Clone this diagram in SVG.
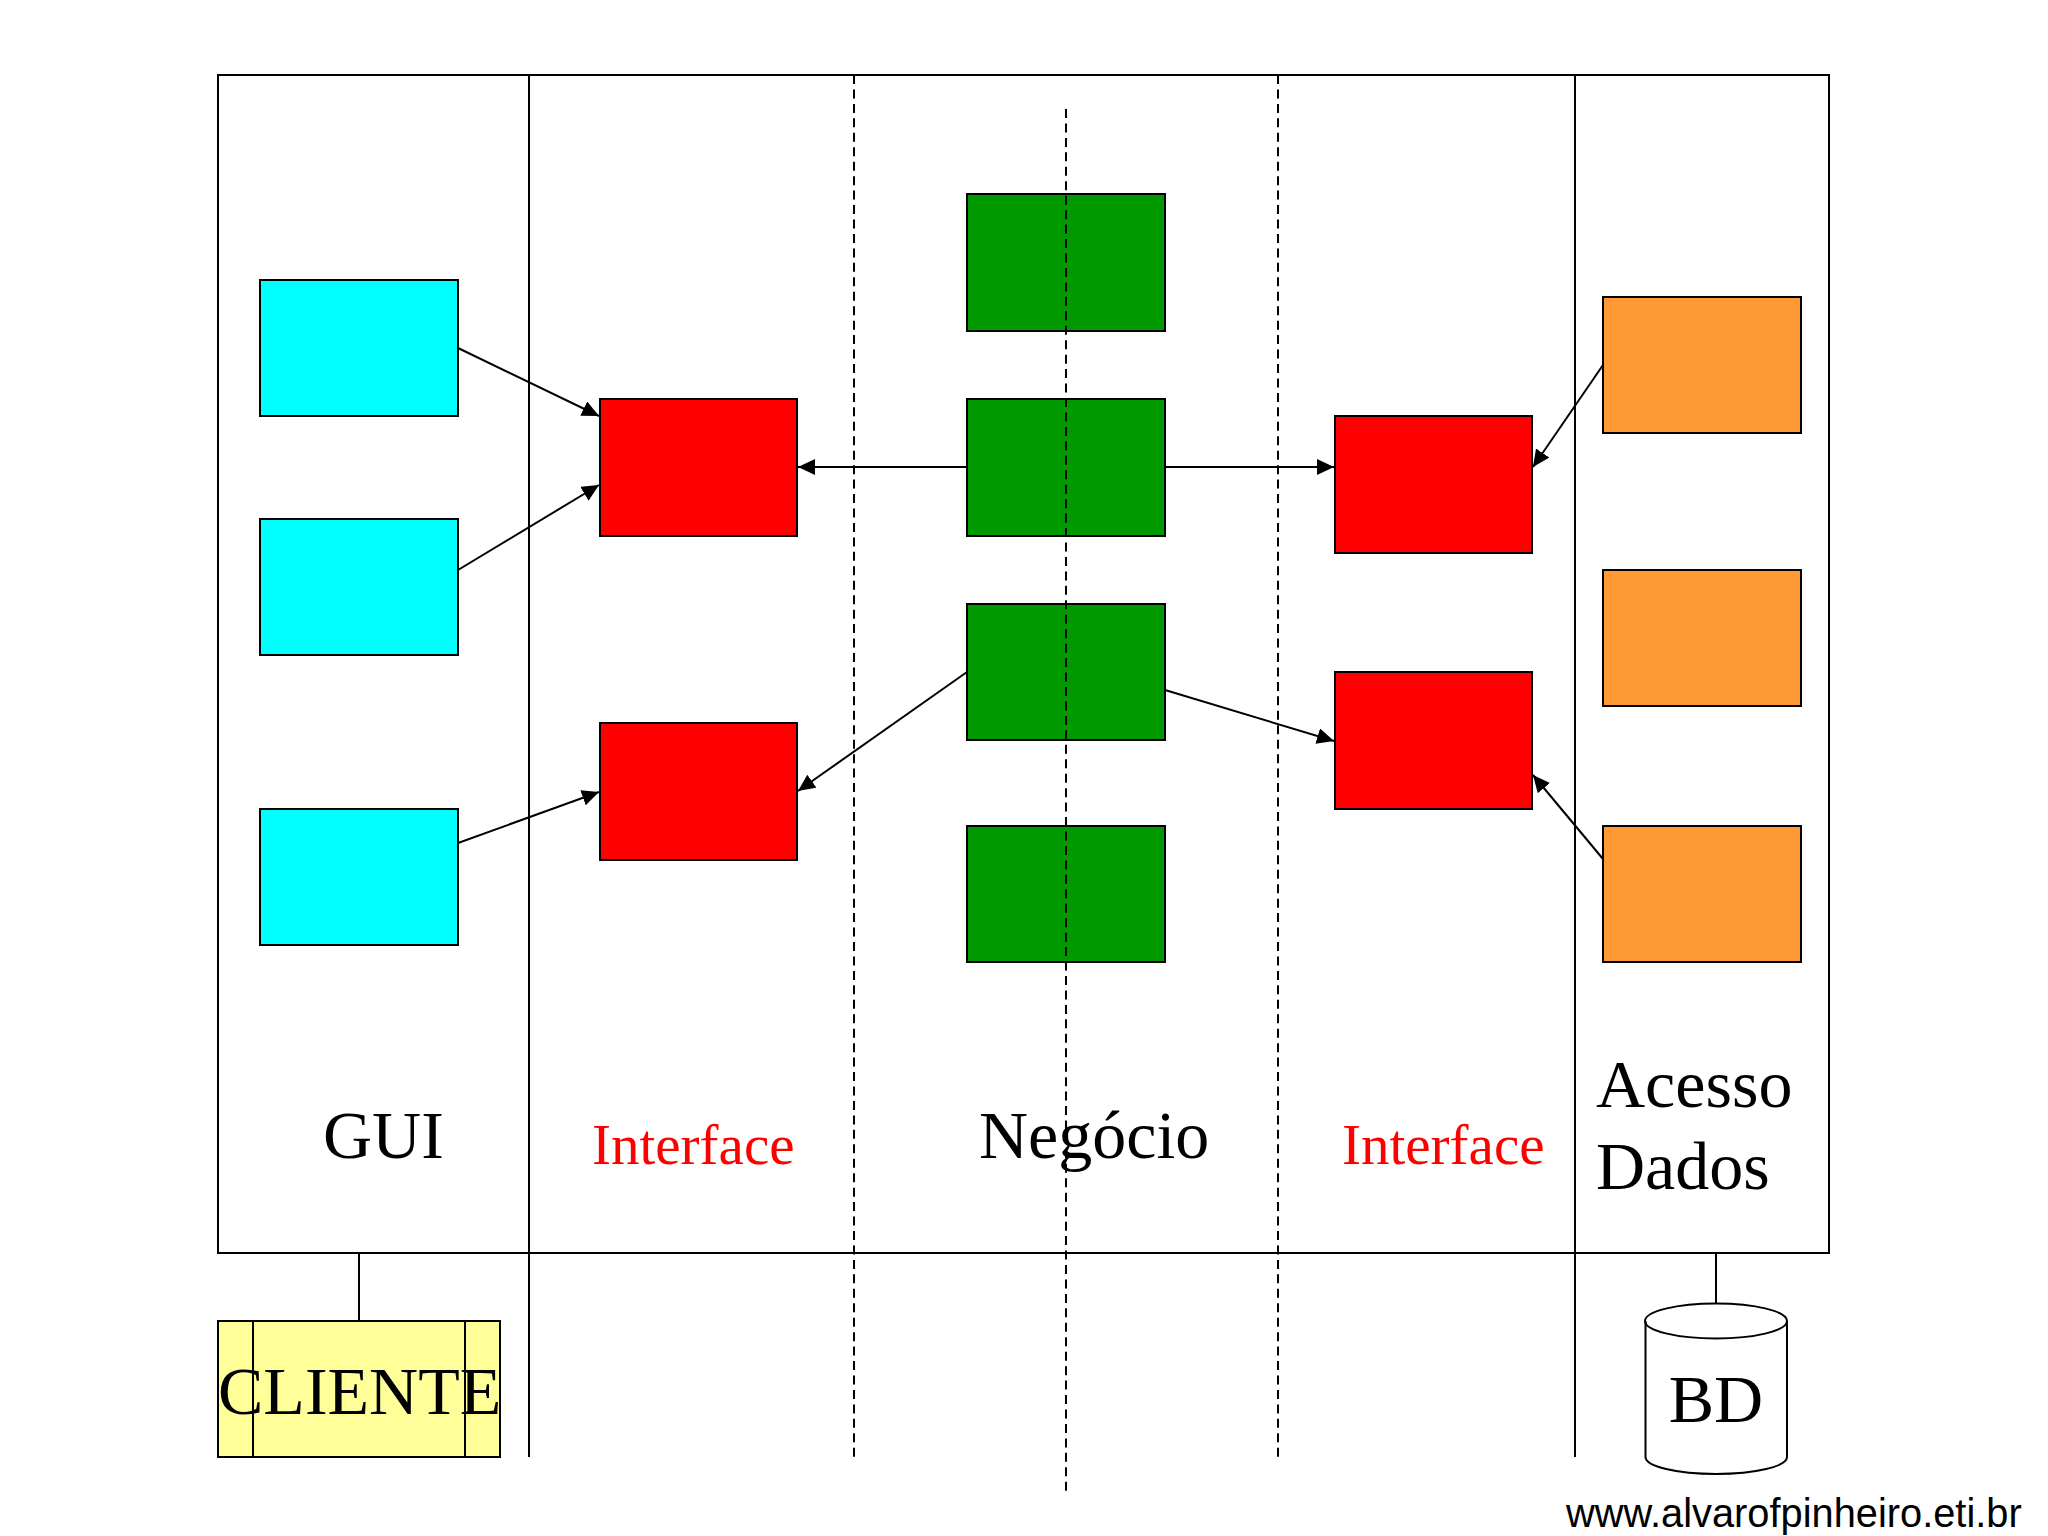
<svg xmlns="http://www.w3.org/2000/svg" width="2048" height="1536" viewBox="0 0 2048 1536">
<style>
.box{stroke:#000;stroke-width:2}
.line{stroke:#000;stroke-width:2;fill:none}
.dash{stroke:#000;stroke-width:2;fill:none;stroke-dasharray:9 5.450}
.arrow{stroke:#000;stroke-width:2;fill:none;marker-end:url(#arrowhead)}
.cyan{fill:#00ffff}.red{fill:#ff0000}.green{fill:#009900}.orange{fill:#ff9933}
.serif{font-family:"Liberation Serif","Times New Roman",serif;font-size:68px;fill:#000}
.iface{font-family:"Liberation Serif","Times New Roman",serif;font-size:57px;fill:#ff0000}
</style>
<defs>
<marker id="arrowhead" markerUnits="userSpaceOnUse" markerWidth="18" markerHeight="18" refX="17" refY="8" orient="auto">
<path d="M0 0L17 8L0 16Z" fill="#000"/>
</marker>
</defs>
<rect width="2048" height="1536" fill="#fff"/>
<g id="frame">
<rect x="218" y="75" width="1611" height="1178" class="line"/>
</g>
<g id="gui1"><rect x="260" y="280" width="198" height="136" class="box cyan"/></g>
<g id="gui2"><rect x="260" y="519" width="198" height="136" class="box cyan"/></g>
<g id="gui3"><rect x="260" y="809" width="198" height="136" class="box cyan"/></g>
<g id="iface1"><rect x="600" y="399" width="197" height="137" class="box red"/></g>
<g id="iface2"><rect x="600" y="723" width="197" height="137" class="box red"/></g>
<g id="neg1"><rect x="967" y="194" width="198" height="137" class="box green"/></g>
<g id="neg2"><rect x="967" y="399" width="198" height="137" class="box green"/></g>
<g id="neg3"><rect x="967" y="604" width="198" height="136" class="box green"/></g>
<g id="neg4"><rect x="967" y="826" width="198" height="136" class="box green"/></g>
<g id="iface3"><rect x="1335" y="416" width="197" height="137" class="box red"/></g>
<g id="iface4"><rect x="1335" y="672" width="197" height="137" class="box red"/></g>
<g id="data1"><rect x="1603" y="297" width="198" height="136" class="box orange"/></g>
<g id="data2"><rect x="1603" y="570" width="198" height="136" class="box orange"/></g>
<g id="data3"><rect x="1603" y="826" width="198" height="136" class="box orange"/></g>
<g id="cliente">
<rect x="218" y="1321" width="282" height="136" fill="#ffff99" class="box"/>
<text x="218" y="1414" class="serif">CLIENTE</text>
<path d="M253 1321V1457M465 1321V1457" class="line"/>
</g>
<g id="bd">
<path d="M1645.500 1321V1457C1645.500 1466.500 1677 1474 1716 1474S1787 1466.500 1787 1457V1321" fill="#fff" class="line"/>
<ellipse cx="1716" cy="1321" rx="71" ry="17.500" fill="#fff" class="line"/>
<text x="1716" y="1422" text-anchor="middle" class="serif">BD</text>
</g>
<g id="labels">
<text x="323" y="1158" class="serif">GUI</text>
<text x="592" y="1164" class="iface">Interface</text>
<text x="979" y="1158" class="serif">Negócio</text>
<text x="1342" y="1164" class="iface">Interface</text>
<text x="1596" y="1107" class="serif">Acesso</text>
<text x="1596" y="1189" class="serif">Dados</text>
<text x="1566" y="1527" font-family="Liberation Sans, Arial, sans-serif" font-size="39.800" fill="#000">www.alvarofpinheiro.eti.br</text>
</g>
<g id="connectors">
<path d="M529 75V1457M1575 75V1457M359 1253V1321M1716 1253V1303" class="line"/>
<path d="M854 75V1457M1278 75V1457M1066 109V1491" class="dash"/>
<line x1="458" y1="348" x2="599" y2="416" class="arrow"/>
<line x1="458" y1="570" x2="599" y2="485" class="arrow"/>
<line x1="458" y1="843" x2="599" y2="792" class="arrow"/>
<line x1="967" y1="467" x2="798" y2="467" class="arrow"/>
<line x1="1165" y1="467" x2="1334" y2="467" class="arrow"/>
<line x1="967" y1="672" x2="798" y2="791" class="arrow"/>
<line x1="1165" y1="690" x2="1334" y2="741" class="arrow"/>
<line x1="1603" y1="365" x2="1533" y2="467" class="arrow"/>
<line x1="1603" y1="859" x2="1533" y2="775" class="arrow"/>
</g>
</svg>
